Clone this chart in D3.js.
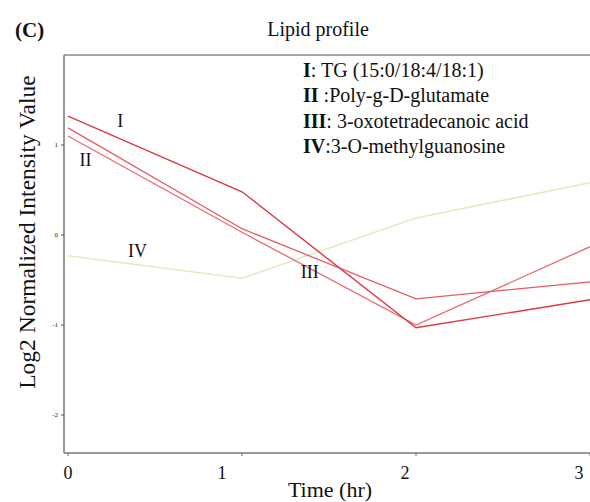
<!DOCTYPE html>
<html><head><meta charset="utf-8">
<script src="https://cdn.jsdelivr.net/npm/d3@7"></script>
<style>body{margin:0;background:#fff}svg{display:block}text{font-family:"Liberation Serif","Times New Roman",serif}</style>
</head><body><svg id="c" width="590" height="502"></svg>
<script>
const times = [0, 1, 2, 3];
const seriesNames = ["I", "II", "III", "IV"];
const seriesI = [1.32, 0.48, -1.03, -0.72];
const seriesII = [1.19, 0.07, -0.71, -0.52];
const seriesIII = [1.10, 0.03, -1.00, -0.13];
const seriesIV = [-0.23, -0.48, 0.19, 0.58];
const yTicks = [-2, -1, 0, 1];
const xTicks = [0, 1, 2, 3];
const legendLabels = [["I", ": TG (15:0/18:4/18:1)"], ["II", " :Poly-g-D-glutamate"], ["III", ": 3-oxotetradecanoic acid"], ["IV", ":3-O-methylguanosine"]];

const svg = d3.select("#c");
const x = d3.scaleLinear().domain([0, 3]).range([68, 590]);
const y = d3.scaleLinear().domain([-2, 2]).range([415, 55]);
const yBottom = 453;

// frame
svg.append("line").attr("x1", 64).attr("x2", 590).attr("y1", 55).attr("y2", 55).attr("stroke", "#888").attr("stroke-width", 1.5);
svg.append("line").attr("x1", 64).attr("x2", 64).attr("y1", 55).attr("y2", yBottom).attr("stroke", "#777").attr("stroke-width", 1.5);
svg.append("line").attr("x1", 64).attr("x2", 590).attr("y1", yBottom).attr("y2", yBottom).attr("stroke", "#777").attr("stroke-width", 1.5);

// y ticks
const yAxis = svg.append("g");
yTicks.forEach(t => {
  yAxis.append("line").attr("x1", 61).attr("x2", 64).attr("y1", y(t)).attr("y2", y(t)).attr("stroke", "#555");
  yAxis.append("text").attr("x", 58).attr("y", y(t)).attr("dy", "0.35em").attr("text-anchor", "end").attr("font-size", 7).attr("fill", "#222").text(t);
});
// x ticks
const xAxis = svg.append("g");
xTicks.forEach((t, i) => {
  xAxis.append("line").attr("x1", x(t)).attr("x2", x(t)).attr("y1", yBottom).attr("y2", yBottom + 3).attr("stroke", "#666");
  xAxis.append("text").attr("x", x(t) - (i === 0 ? 0 : (i === 1 ? 20 : 11))).attr("y", 479).attr("text-anchor", "middle").attr("font-size", 18).attr("fill", "#111").text(t);
});

const line = d3.line().x((d, i) => x(times[i])).y(d => y(d));
const data = [
  {v: seriesIV, c: "#e4ebc4", w: 1.6},
  {v: seriesIII, c: "#e86a72", w: 1.3},
  {v: seriesII, c: "#e65a64", w: 1.3},
  {v: seriesI, c: "#dc3846", w: 1.4}
];
svg.append("g").selectAll("path").data(data).join("path")
  .attr("d", d => line(d.v)).attr("fill", "none").attr("stroke", d => d.c).attr("stroke-width", d => d.w);

// in-plot labels
const labelPos = [[x(0.3), y(1.2)], [x(0.1), y(0.77)], [x(1.39), y(-0.48)], [x(0.4), y(-0.24)]];
seriesNames.forEach((n, i) => {
  svg.append("text").attr("x", labelPos[i][0]).attr("y", labelPos[i][1]).attr("text-anchor", "middle").attr("font-size", 18).attr("fill", "#111").text(n);
});

// legend
legendLabels.forEach((l, i) => {
  const t = svg.append("text").attr("x", 303).attr("y", 77 + i * 25.3).attr("font-size", 20).attr("fill", "#111");
  t.append("tspan").attr("font-weight", "bold").text(l[0]);
  t.append("tspan").text(l[1]);
});

// titles
svg.append("text").attr("x", 318).attr("y", 36).attr("text-anchor", "middle").attr("font-size", 20).attr("fill", "#111").text("Lipid profile");
svg.append("text").attr("x", 15).attr("y", 37).attr("font-size", 21).attr("font-weight", "bold").attr("fill", "#111").text("(C)");
svg.append("text").attr("transform", "translate(35,232) rotate(-90)").attr("text-anchor", "middle").attr("font-size", 23.5).attr("fill", "#111").text("Log2 Normalized Intensity Value");
svg.append("text").attr("x", 330).attr("y", 497).attr("text-anchor", "middle").attr("font-size", 22).attr("fill", "#111").text("Time (hr)");
</script></body></html>
